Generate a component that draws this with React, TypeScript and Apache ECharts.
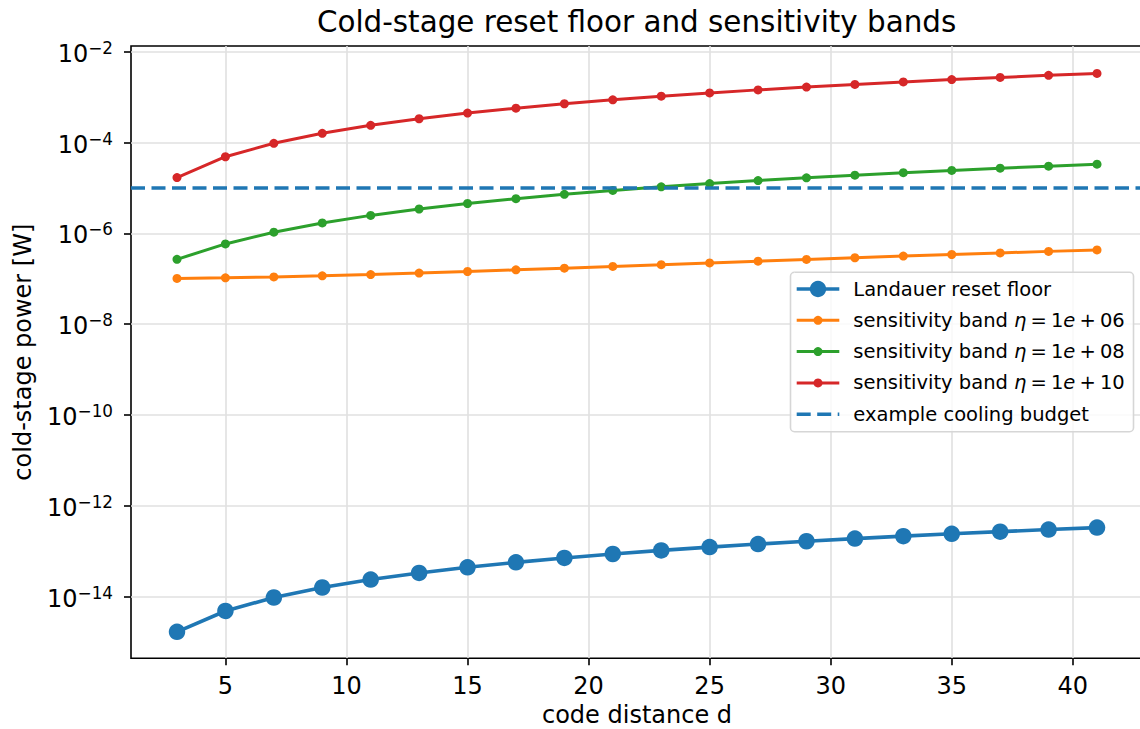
import React, { useEffect, useRef } from "react";
import * as echarts from "echarts";

// ---------------- data ----------------
const distances = [3, 5, 7, 9, 11, 13, 15, 17, 19, 21, 23, 25, 27, 29, 31, 33, 35, 37, 39, 41];

const landauer = [
  1.683e-15, 4.851e-15, 9.603e-15, 1.594e-14, 2.386e-14, 3.336e-14, 4.445e-14, 5.712e-14, 7.138e-14, 8.722e-14,
  1.046e-13, 1.237e-13, 1.442e-13, 1.664e-13, 1.902e-13, 2.155e-13, 2.425e-13, 2.71e-13, 3.011e-13, 3.327e-13,
];

const band1e6 = [
  1.0168e-7, 1.0485e-7, 1.096e-7, 1.1594e-7, 1.2386e-7, 1.3336e-7, 1.4445e-7, 1.5712e-7, 1.7138e-7, 1.8722e-7,
  2.046e-7, 2.237e-7, 2.442e-7, 2.664e-7, 2.902e-7, 3.155e-7, 3.425e-7, 3.71e-7, 4.011e-7, 4.327e-7,
];

const band1e8 = [
  2.683e-7, 5.851e-7, 1.0603e-6, 1.694e-6, 2.486e-6, 3.436e-6, 4.545e-6, 5.812e-6, 7.238e-6, 8.822e-6,
  1.056e-5, 1.247e-5, 1.452e-5, 1.674e-5, 1.912e-5, 2.165e-5, 2.435e-5, 2.72e-5, 3.021e-5, 3.337e-5,
];

const band1e10 = [
  1.693e-5, 4.861e-5, 9.613e-5, 1.595e-4, 2.387e-4, 3.337e-4, 4.446e-4, 5.713e-4, 7.139e-4, 8.723e-4,
  1.0461e-3, 1.2371e-3, 1.4421e-3, 1.6641e-3, 1.9021e-3, 2.1551e-3, 2.4251e-3, 2.7101e-3, 3.0111e-3, 3.3271e-3,
];

const coolingBudget = 1e-5;

const xTicks = [5, 10, 15, 20, 25, 30, 35, 40];
const yTickExponents = [-14, -12, -10, -8, -6, -4, -2];

const seriesNames = [
  "Landauer reset floor",
  "sensitivity band η = 1e + 06",
  "sensitivity band η = 1e + 08",
  "sensitivity band η = 1e + 10",
  "example cooling budget",
];
const etaExponents = ["06", "08", "10"];

// ---------------- style ----------------
const FONT = "DejaVu Sans";
const BLUE = "#1f77b4";
const ORANGE = "#ff7f0e";
const GREEN = "#2ca02c";
const RED = "#d62728";
const colors = [BLUE, ORANGE, GREEN, RED, BLUE];

const toPairs = (vals: number[]) => distances.map((d, i) => [d, Math.log10(vals[i])]);

const legendText = (i: number) => {
  if (i >= 1 && i <= 3) {
    return "sensitivity band {it|η}{sp| }={sp| }1{it|e}{sp| }+{sp| }" + etaExponents[i - 1];
  }
  return seriesNames[i];
};

function buildLegend() {
  const els: any[] = [];
  const boxX = 790.5;
  const boxY = 272.3;
  els.push({
    type: "rect",
    z: 100,
    shape: { x: boxX, y: boxY, width: 343, height: 159.4, r: 4 },
    style: { fill: "rgba(255,255,255,0.8)", stroke: "#d6d6d6", lineWidth: 1.6 },
  });
  const x0 = 796.7;
  const x1 = 839.3;
  const xc = 818;
  const tx = 853.3;
  for (let i = 0; i < 5; i++) {
    const y = 289 + i * 31.3;
    const c = colors[i];
    const dashed = i === 4;
    els.push({
      type: "line",
      z: 101,
      shape: { x1: x0, y1: y, x2: x1, y2: y },
      style: {
        stroke: c,
        lineWidth: i === 0 || dashed ? 3.6 : 3,
        lineDash: dashed ? [14, 6.5] : null,
      },
    });
    if (!dashed) {
      els.push({
        type: "circle",
        z: 102,
        shape: { cx: xc, cy: y, r: i === 0 ? 8.2 : 4.5 },
        style: { fill: c },
      });
    }
    els.push({
      type: "text",
      z: 102,
      x: tx,
      y: y,
      style: {
        text: legendText(i),
        fontFamily: FONT,
        fontSize: 19.5,
        fill: "#000",
        align: "left",
        verticalAlign: "middle",
        rich: {
          it: { fontFamily: FONT, fontSize: 19.5, fontStyle: "italic", fill: "#000" },
          sp: { fontFamily: FONT, fontSize: 19.5, width: 4.1, fill: "#000" },
        },
      },
    });
  }
  return els;
}

export default function App() {
  const ref = useRef<HTMLDivElement>(null);

  useEffect(() => {
    if (!ref.current) return;
    const chart = echarts.init(ref.current, undefined, { renderer: "svg" });

    const lineSeries = (idx: number, vals: number[], size: number, width: number) => ({
      type: "line",
      name: seriesNames[idx],
      data: toPairs(vals),
      symbol: "circle",
      symbolSize: size,
      showSymbol: true,
      lineStyle: { color: colors[idx], width },
      itemStyle: { color: colors[idx], borderWidth: 0 },
      z: 2 + idx,
      silent: true,
    });

    const red: any = lineSeries(3, band1e10, 9, 3);
    red.markLine = {
      silent: true,
      symbol: ["none", "none"],
      label: { show: false },
      lineStyle: { color: BLUE, width: 3.6, type: [14, 6.5] },
      data: [{ yAxis: Math.log10(coolingBudget), name: seriesNames[4] }],
    };

    chart.setOption({
      animation: false,
      backgroundColor: "#ffffff",
      title: {
        text: "Cold-stage reset floor and sensitivity bands",
        left: 636.6,
        top: 7,
        padding: 0,
        textAlign: "center",
        textStyle: { fontFamily: FONT, fontSize: 29.4, fontWeight: "normal", color: "#000" },
      },
      grid: {
        left: 131,
        top: 46,
        width: 1012,
        height: 612.3,
        show: true,
        borderColor: "#000",
        borderWidth: 1.6,
        backgroundColor: "transparent",
        containLabel: false,
        outerBoundsMode: "none",
      },
      xAxis: {
        type: "value",
        min: 1.1,
        max: 42.9,
        splitNumber: 8,
        name: "code distance d",
        nameLocation: "middle",
        nameGap: 47,
        nameTextStyle: { fontFamily: FONT, fontSize: 24, lineHeight: 20, color: "#000" },
        axisLine: { show: false },
        axisTick: {
          show: true,
          length: 7,
          inside: false,
          customValues: xTicks,
          lineStyle: { color: "#000", width: 1.6 },
        },
        axisLabel: {
          customValues: xTicks,
          margin: 16,
          fontFamily: FONT,
          fontSize: 24,
          color: "#000",
        },
        splitLine: { show: true, lineStyle: { color: "#e0e0e0", width: 1.6 } },
      },
      yAxis: {
        type: "value",
        min: -15.356,
        max: -1.875,
        splitNumber: 7,
        name: "cold-stage power [W]",
        nameLocation: "middle",
        nameGap: 96,
        nameTextStyle: { fontFamily: FONT, fontSize: 24, color: "#000" },
        axisLine: { show: false },
        axisTick: {
          show: true,
          length: 7,
          inside: false,
          customValues: yTickExponents,
          lineStyle: { color: "#000", width: 1.6 },
        },
        axisLabel: {
          customValues: yTickExponents,
          margin: 18,
          color: "#000",
          fontFamily: FONT,
          fontSize: 24,
          formatter: (v: number) => {
            const e = Math.round(v);
            const s = e < 0 ? "\u2212" + Math.abs(e) : String(e);
            return "{b|10}{sup|" + s + "}";
          },
          rich: {
            b: { fontFamily: FONT, fontSize: 24, color: "#000", padding: [4, 0, 0, 0] },
            sup: { fontFamily: FONT, fontSize: 16.8, color: "#000", padding: [0, 0, 8, 0] },
          },
        },
        splitLine: { show: true, lineStyle: { color: "#e0e0e0", width: 1.6 } },
      },
      series: [
        lineSeries(0, landauer, 16.5, 3.6),
        lineSeries(1, band1e6, 9, 3),
        lineSeries(2, band1e8, 9, 3),
        red,
      ],
      graphic: buildLegend(),
    });

    return () => chart.dispose();
  }, []);

  return (
    <div
      ref={ref}
      style={{ position: "fixed", left: 0, top: 0, width: 1140, height: 729, background: "#fff" }}
    />
  );
}
